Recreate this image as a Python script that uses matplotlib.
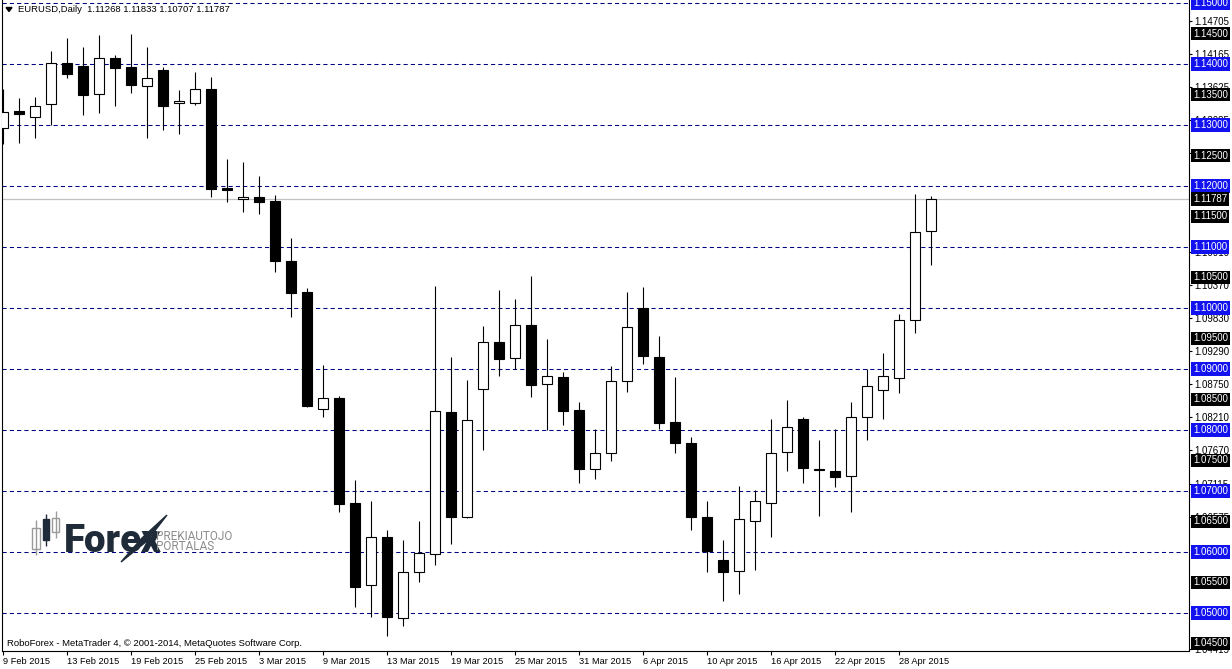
import matplotlib
matplotlib.use("Agg")
import matplotlib.pyplot as plt
from matplotlib.patches import Rectangle, Polygon
import pandas as pd

# EURUSD daily, 9 Feb - 30 Apr 2015
dates = [d.strftime("%-d %b %Y") for d in pd.bdate_range("2015-02-09", "2015-04-30")]
opens = [1.12951, 1.13230, 1.13131, 1.13344, 1.14016, 1.13967, 1.13508, 1.14098, 1.13951, 1.13639,
         1.13902, 1.13361, 1.13361, 1.13590, 1.11967, 1.11787, 1.11820, 1.11754, 1.10770, 1.10262,
         1.08344, 1.08525, 1.06803, 1.05459, 1.06246, 1.04918, 1.05672, 1.05967, 1.08295, 1.06574,
         1.08672, 1.09443, 1.09180, 1.09721, 1.08754, 1.08869, 1.08328, 1.07361, 1.07623, 1.08803,
         1.10000, 1.09197, 1.08131, 1.07787, 1.06574, 1.05869, 1.05689, 1.06508, 1.06803, 1.07639,
         1.08180, 1.07361, 1.07328, 1.07246, 1.08213, 1.08656, 1.08852, 1.09803, 1.11268]
highs = [1.13590, 1.13443, 1.13459, 1.14213, 1.14426, 1.14279, 1.14475, 1.14148, 1.14492, 1.14279,
         1.13951, 1.13574, 1.13869, 1.13787, 1.12443, 1.12393, 1.12164, 1.11852, 1.11148, 1.10328,
         1.09066, 1.08557, 1.07180, 1.06836, 1.06361, 1.06197, 1.06508, 1.10361, 1.09197, 1.08820,
         1.09705, 1.10295, 1.10148, 1.10525, 1.09492, 1.08951, 1.08459, 1.08016, 1.09049, 1.10262,
         1.10344, 1.09541, 1.08869, 1.07885, 1.06836, 1.06197, 1.07082, 1.07016, 1.08180, 1.08492,
         1.08213, 1.07836, 1.08016, 1.08459, 1.09000, 1.09262, 1.09902, 1.11869, 1.11833]
lows = [1.12689, 1.12705, 1.12787, 1.13000, 1.13770, 1.13164, 1.13197, 1.13311, 1.13525, 1.12787,
        1.12918, 1.12852, 1.13328, 1.11820, 1.11738, 1.11574, 1.11541, 1.10590, 1.09852, 1.08377,
        1.08213, 1.06656, 1.05098, 1.04934, 1.04623, 1.04787, 1.05508, 1.05787, 1.06131, 1.06557,
        1.07672, 1.08885, 1.09000, 1.08541, 1.08000, 1.08082, 1.07131, 1.07197, 1.07492, 1.08623,
        1.09082, 1.08016, 1.07623, 1.06361, 1.05672, 1.05197, 1.05311, 1.05705, 1.06246, 1.07328,
        1.07131, 1.06590, 1.07066, 1.06656, 1.07836, 1.08180, 1.08607, 1.09590, 1.10707]
closes = [1.13213, 1.13180, 1.13311, 1.14016, 1.13836, 1.13492, 1.14098, 1.13934, 1.13656, 1.13770,
          1.13311, 1.13393, 1.13590, 1.11951, 1.11934, 1.11820, 1.11738, 1.10770, 1.10246, 1.08393,
          1.08525, 1.06787, 1.05426, 1.06246, 1.04934, 1.05672, 1.05984, 1.08311, 1.06574, 1.08164,
          1.09443, 1.09164, 1.09721, 1.08738, 1.08885, 1.08311, 1.07361, 1.07623, 1.08803, 1.09689,
          1.09213, 1.08115, 1.07787, 1.06574, 1.06016, 1.05672, 1.06541, 1.06836, 1.07623, 1.08049,
          1.07377, 1.07344, 1.07230, 1.08213, 1.08721, 1.08885, 1.09803, 1.11246, 1.11787]

round_levels = [1.05, 1.06, 1.07, 1.08, 1.09, 1.10, 1.11, 1.12, 1.13, 1.14, 1.15]
half_levels = [1.045, 1.055, 1.065, 1.075, 1.085, 1.095, 1.105, 1.115, 1.125, 1.135, 1.145]
scale_ticks = [1.14705, 1.14165, 1.13625, 1.13085, 1.12545, 1.10910, 1.10370, 1.09830,
               1.09290, 1.08750, 1.08210, 1.07670, 1.07115, 1.06575, 1.04415]
last_price = closes[-1]

W, H = 1232, 669
font = "Liberation Sans"
fig = plt.figure(figsize=(W / 100, H / 100), dpi=100)
ax = fig.add_axes([2 / W, 18 / H, 1187 / W, 651 / H])
ax.set_xlim(-0.0625, 74.125)
ax.set_ylim(1.04377, 1.150492)

for lv in round_levels:
    ax.axhline(lv, color="#000080", lw=0.75, ls=(0, (4, 3)), zorder=1)
ax.axhline(last_price, color="#c0c0c0", lw=0.9, zorder=1)

xs = list(range(len(dates)))
ax.vlines(xs, lows, highs, color="black", lw=0.8, zorder=2)
for x, o, c in zip(xs, opens, closes):
    up = c >= o
    ax.bar(x, abs(c - o), bottom=min(o, c), width=0.66,
           color="white" if up else "black", edgecolor="black", lw=0.8, zorder=3)

# axes styling
for s in ["left", "right", "bottom"]:
    ax.spines[s].set_linewidth(0.8)
ax.spines["top"].set_visible(False)
ax.yaxis.tick_right()
ax.set_yticks(scale_ticks)
ax.set_yticklabels(["%.5f" % t for t in scale_ticks], fontsize=7, family=font)
ax.tick_params(axis="y", length=2.5, width=0.8, pad=1.5)
ax.set_xticks(xs[::4])
ax.set_xticklabels(dates[::4], fontsize=6.7, family=font, ha="left")
ax.tick_params(axis="x", length=3, width=0.8, pad=1.5)

ytr = ax.get_yaxis_transform()
for lv in round_levels:
    ax.text(1.0035, lv, "%.5f" % lv, transform=ytr, color="white", fontsize=7, family=font,
            va="center", ha="left", clip_on=False, zorder=10,
            bbox=dict(boxstyle="square,pad=0.18", fc="#1212f0", ec="none"))
for lv in half_levels + [last_price]:
    ax.text(1.0035, lv, "%.5f" % lv, transform=ytr, color="white", fontsize=7, family=font,
            va="center", ha="left", clip_on=False, zorder=10,
            bbox=dict(boxstyle="square,pad=0.18", fc="black", ec="none"))

# overlay in pixel coordinates for header, logo and copyright
ov = fig.add_axes([0, 0, 1, 1], zorder=5)
ov.set_xlim(0, W)
ov.set_ylim(H, 0)
ov.axis("off")
ov.patch.set_visible(False)

ov.add_patch(Polygon([(6, 7.5), (12, 7.5), (9, 11.5)], closed=True, color="black"))
ov.text(18, 10, "EURUSD,Daily  1.11268 1.11833 1.10707 1.11787", fontsize=6.8, family=font,
        va="center", ha="left")
ov.text(7, 643, "RoboForex - MetaTrader 4, \u00a9 2001-2014, MetaQuotes Software Corp.",
        fontsize=6.8, family=font, va="center", ha="left")

# Forex logo
ov.vlines([36, 46, 55.5], [520, 514, 511], [555, 546, 538], colors=["#9a9a9a", "#1f2b38", "#9a9a9a"], lw=1)
ov.add_patch(Rectangle((32, 528), 8, 21, fc="white", ec="#9a9a9a", lw=1))
ov.add_patch(Rectangle((43, 519), 6, 21, fc="#1f2b38", ec="#1f2b38", lw=1))
ov.add_patch(Rectangle((52, 518), 7, 14, fc="white", ec="#9a9a9a", lw=1))
logo = ov.text(64, 552, "Forex", fontsize=32, family="Roboto", fontweight=900, color="#1f2b38",
               va="baseline", ha="left")
fig.canvas.draw()
bb = logo.get_window_extent()
logo.set_fontsize(32 * 98 / bb.width)
ov.add_patch(Polygon([(121, 562), (142, 538), (167, 515), (147, 541)], closed=True, color="#1f2b38"))
ov.text(156, 540, "PREKIAUTOJO", fontsize=8.5, family="Roboto", color="#8c8c8c",
        va="baseline", ha="left")
ov.text(156, 549.5, "PORTALAS", fontsize=8.5, family="Roboto", color="#8c8c8c",
        va="baseline", ha="left")

fig.savefig("out.png", dpi=100)
